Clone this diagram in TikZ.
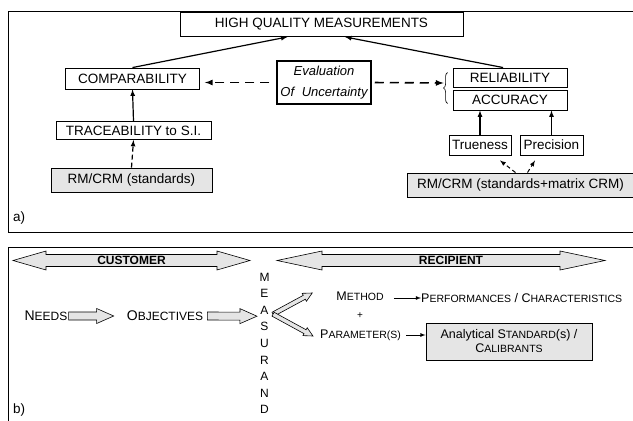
\documentclass[tikz,border=0pt]{standalone}
\usepackage{fontspec}
\setmainfont{Liberation Sans}
\usetikzlibrary{calc}
\usetikzlibrary{arrows}
\usetikzlibrary{decorations.pathreplacing}

\newcommand\smc[2]{{\fontsize{#1}{#1}\selectfont #2}}
\newcommand\hollowarrow[5]{%
  \coordinate (ha) at ($(#2)!#5!(#1)$);
  \draw[hollow] ($(#1)!#3!90:(#2)$) -- ($(ha)!#3!90:(#2)$) -- ($(ha)!#4!90:(#2)$) -- (#2)
    -- ($(ha)!#4!-90:(#2)$) -- ($(ha)!#3!-90:(#2)$) -- ($(#1)!#3!-90:(#2)$) -- cycle;}

\begin{document}
\begin{tikzpicture}[x=1pt,y=-1pt,box/.style={draw, line width=0.9pt, inner sep=0pt, font=\fontsize{13.5}{15}\selectfont}]
    \tikzset{graybox/.style={box, fill=black!10}}
    \tikzset{hollow/.style={draw, line width=0.6pt, fill=black!10}}
    \tikzset{link/.style={line width=1.2pt, >=latex, ->}}
    \tikzset{dlink/.style={link, line width=1.6pt, dash pattern=on 9pt off 6pt}}
    \tikzset{slink/.style={line width=0.8pt, >=latex, ->}}
    \tikzset{llbl/.style={inner sep=0pt, font=\fontsize{14}{16}\selectfont}}
    \tikzset{rlbl/.style={inner sep=0pt, font=\fontsize{12.5}{14}\selectfont}}
    \useasboundingbox (0,0) rectangle (633,421);
    \clip (0,0) rectangle (633,421);
    % the two frames
    \draw[line width=1pt] (8,11) rectangle (660,232);
    \draw[line width=1pt] (8,247) rectangle (660,440);

    % a) quality chain
    \node[box, minimum width=283pt, minimum height=24pt] (hqm) at (321.5,24.5) {HIGH QUALITY MEASUREMENTS};
    \node[box, minimum width=134pt, minimum height=21pt] (comp) at (132.5,78.5) {COMPARABILITY};
    \node[box, minimum width=155pt, minimum height=18pt] (trace) at (133.5,130.5) {TRACEABILITY to S.I.};
    \node[graybox, minimum width=161pt, minimum height=24pt] (rmstd) at (131.5,180) {RM/CRM (standards)};
    \node[box, line width=1.5pt, minimum width=94pt, minimum height=43pt, align=center,
      font=\fontsize{13}{21}\selectfont\itshape] (eval) at (324,82.5) {Evaluation\\Of\hspace{4pt} Uncertainty};
    \node[box, minimum width=114pt, minimum height=19pt] (rel) at (510,77.5) {RELIABILITY};
    \node[box, minimum width=114pt, minimum height=20pt] (acc) at (510,100) {ACCURACY};
    \node[box, minimum width=62pt, minimum height=20pt] (true) at (480,145) {Trueness};
    \node[box, minimum width=63pt, minimum height=20pt] (prec) at (551.5,145) {Precision};
    \node[graybox, minimum width=227pt, minimum height=24pt] (rmmat) at (520.5,185) {RM/CRM (standards+matrix CRM)};
    \node[anchor=west, inner sep=0pt, font=\fontsize{13.5}{15}\selectfont] (alabel) at (13,218) {a)};

    \draw[decorate, decoration={brace, amplitude=4pt}, line width=0.6pt]
      ($(acc.south west)+(-5,-7)$) -- ($(rel.north west)+(-5,5)$);
    \coordinate (brtip) at ($(acc.south west)!0.5!(rel.north west)+(-9,-6)$);

    \draw[link] (comp.north) -- ($(hqm.south west)!0.38!(hqm.south east)$);
    \draw[link] ($(rel.north west)!0.44!(rel.north east)$) -- ($(hqm.south west)!0.583!(hqm.south east)$);
    \draw[link] (trace.north) -- (comp.south);
    \draw[link, dash pattern=on 5pt off 3pt] (rmstd.north) -- (trace.south);
    \draw[dlink, shorten <=7pt, shorten >=5pt] (eval.west) -- (comp.east |- eval.west);
    \draw[dlink, shorten <=3pt] (eval.east) -- (brtip);
    \draw[link] (true.north) -- (true.north |- acc.south);
    \draw[link] (prec.north) -- (prec.north |- acc.south);
    \draw[link, line width=1pt, dash pattern=on 4pt off 3pt] ($(rmmat.north)+(-5,0)$) -- ($(true.south)+(20,5)$);
    \draw[link, line width=1pt, dash pattern=on 4pt off 3pt] ($(rmmat.north)+(7,0)$) -- ($(prec.south)+(-16.5,5)$);

    % b) customer / recipient
    \foreach \xl/\xr/\hl in {13/250/33, 277/605/45} {
    \draw[hollow] (\xl,260.5) -- ({\xl+\hl},251) -- ({\xl+\hl},254.5) -- ({\xr-\hl},254.5) -- ({\xr-\hl},251)
      -- (\xr,260.5) -- ({\xr-\hl},270) -- ({\xr-\hl},266.5) -- ({\xl+\hl},266.5) -- ({\xl+\hl},270) -- cycle;
    }
    \node[font=\bfseries\fontsize{12}{14}\selectfont] (customer) at (131.5,260.5) {CUSTOMER};
    \node[font=\bfseries\fontsize{12}{14}\selectfont] (recipient) at (451,260.5) {RECIPIENT};

    \foreach \c [count=\i] in {M,E,A,S,U,R,A,N,D}
      \node[font=\fontsize{12}{14}\selectfont] (m\i) at (264.5,{277+16.6*(\i-1)}) {\c};

    \node[llbl] (needs) at (46,316) {N\smc{12}{EEDS}};
    \node[llbl] (objectives) at (165,316) {O\smc{12}{BJECTIVES}};
    \coordinate (n1) at ($(needs.east)+(1,0)$);
    \coordinate (n2) at ($(objectives.west)+(-13,0)$);
    \hollowarrow{n1}{n2}{4pt}{7.5pt}{17pt}
    \coordinate (o1) at ($(objectives.east)+(4,0)$);
    \coordinate (o2) at ($(m3.west)+(0,6)$);
    \hollowarrow{o1}{o2}{4pt}{7.5pt}{17pt}

    \node[rlbl] (method) at (360,296) {M\smc{10.5}{ETHOD}};
    \node[rlbl, anchor=west] (perf) at (421,298) {P\smc{10.5}{ERFORMANCES} / C\smc{10.5}{HARACTERISTICS}};
    \node[rlbl, font=\fontsize{10}{12}\selectfont] (plus) at (360,316) {+};
    \node[rlbl] (param) at (360.5,335) {P\smc{10.5}{ARAMETER(S)}};
    \node[graybox, font=\fontsize{12.5}{14}\selectfont, align=center, minimum width=166pt, minimum height=37pt]
      (anal) at (509,341.5) {Analytical S\smc{10.5}{TANDARD}(s) /\\C\smc{10.5}{ALIBRANTS}};
    \node[anchor=west, inner sep=0pt, font=\fontsize{13.5}{15}\selectfont] (blabel) at (13,410) {b)};

    \coordinate (fork) at ($(m3.east)+(1,4)$);
    \coordinate (forkup) at ($(method.west)+(-24,-3)$);
    \coordinate (forkdown) at ($(param.west)+(-7,1)$);
    \hollowarrow{fork}{forkup}{2.2pt}{4.5pt}{9pt}
    \hollowarrow{fork}{forkdown}{2.2pt}{4.5pt}{9pt}

    \draw[slink, shorten <=10pt] (method.east |- perf.west) -- (perf.west);
    \draw[slink, shorten <=5pt] (param.east) -- (anal.west |- param.east);
\end{tikzpicture}
\end{document}
